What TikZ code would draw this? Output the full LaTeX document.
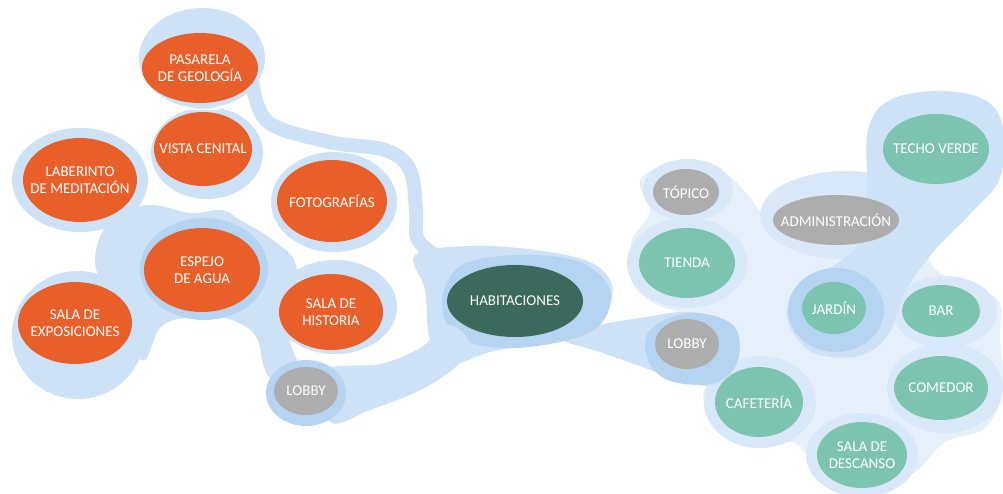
\documentclass[tikz,border=0pt]{standalone}
\usepackage{fontspec}
\setmainfont{Carlito}
\definecolor{blueL}{HTML}{E6F0FA}
\definecolor{blueM}{HTML}{D9E8F8}
\definecolor{blueA}{HTML}{CDE2F6}
\definecolor{blueB}{HTML}{B5D4F1}
\definecolor{roomorange}{HTML}{E85F2A}
\definecolor{roomteal}{HTML}{7DC4B0}
\definecolor{roomdark}{HTML}{3B6A5C}
\definecolor{roomgray}{HTML}{ADADAD}
\newcommand\roomnode[7]{%
  \fill[#6] (#2,#3) ellipse [x radius=#4, y radius=#5];
  \node[roomtext] (#1) at (#2,#3) {#7};}
\begin{document}
\begin{tikzpicture}[x=1pt,y=-1pt,
  roomtext/.style={inner sep=0pt, text=white, align=center,
    font=\fontsize{15}{17.5}\selectfont},
  blobL/.style={fill=blueL},
  blobM/.style={fill=blueM},
  blobA/.style={fill=blueA},
  blobB/.style={fill=blueB}]
\useasboundingbox (0,0) rectangle (1003,493);
\fill[white] (0,0) rectangle (1003,493);

% ---------- right cluster ----------
\path[blobL] plot[smooth cycle, tension=0.6] coordinates {
 (640,180) (675,163) (720,170) (748,195) (762,212) (775,190) (830,172) (900,182)
 (930,215) (930,262) (962,285) (998,300) (1000,340) (1003,390) (985,428) (945,442)
 (915,472) (870,493) (825,482) (808,456) (790,442) (745,447) (712,424) (705,388)
 (740,365) (715,322) (660,306) (632,282) (632,240) (650,212)};
\path[blobM] (688,190) ellipse [x radius=45, y radius=31];
\path[blobM] (687,263) ellipse [x radius=60, y radius=45];
\path[blobM] (845,215) ellipse [x radius=85, y radius=44];
\path[blobM] (945,312) ellipse [x radius=52, y radius=36];
\path[blobM] (945,388) ellipse [x radius=58, y radius=45];
\path[blobM] (760,402) ellipse [x radius=56, y radius=46];
\path[blobM] (862,455) ellipse [x radius=56, y radius=42];
% techo verde / jardin teardrop
\path[blobA] plot[smooth cycle, tension=0.6] coordinates {
 (868,130) (890,100) (940,91) (985,100) (1003,128) (1000,178) (972,212)
 (935,250) (905,292) (888,335) (858,356) (812,352) (787,318) (800,283)
 (835,265) (860,240) (867,195)};
\path[blobB] (836,310) ellipse [x radius=48, y radius=42];

% ---------- habitaciones area ----------
\path[blobA] plot[smooth cycle, tension=0.6] coordinates {
 (560,338) (600,325) (640,318) (690,312) (730,325) (738,360) (715,385)
 (680,380) (640,366) (600,352)};
\path[blobB] plot[smooth cycle, tension=0.6] coordinates {
 (650,330) (690,313) (733,325) (738,360) (715,383) (670,381) (648,360)};
\path[blobA] plot[smooth cycle, tension=0.6] coordinates {
 (415,255) (470,246) (535,250) (590,262) (612,285) (605,315) (580,332)
 (540,342) (490,352) (450,364) (430,340) (425,290)};
\path[blobB] plot[smooth cycle, tension=0.6] coordinates {
 (442,300) (462,265) (520,255) (580,262) (610,290) (600,325) (560,342)
 (500,348) (455,335)};
% band lobby -> habitaciones
\path[blobA] plot[smooth cycle, tension=0.6] coordinates {
 (320,372) (380,364) (420,348) (450,325) (470,350) (430,385) (370,410) (330,422)};
% tail from pasarela
\draw[blueA, line width=14pt, line cap=round] plot[smooth, tension=0.6] coordinates {
 (252,80) (268,122) (330,142) (385,150) (410,170) (416,210) (418,240) (440,258)};

% ---------- left cluster ----------
\path[blobA] (202,58) ellipse [x radius=63, y radius=50];
\path[blobA] (80,180) ellipse [x radius=68, y radius=52];
\path[blobA] (78,335) ellipse [x radius=66, y radius=64];
\path[blobA] (207,153) ellipse [x radius=56, y radius=46];
\path[blobA] (334,202) ellipse [x radius=63, y radius=50];
\path[blobA] (335,307) ellipse [x radius=62, y radius=47];
\path[blobA] plot[smooth cycle, tension=0.6] coordinates {
 (95,258) (112,218) (150,205) (190,213) (222,210) (240,220) (270,238) (295,262)
 (295,300) (290,340) (300,372) (280,385) (265,370) (255,335) (225,318) (185,318)
 (160,328) (145,360) (130,345) (108,300)};
\path[blobB] (204,269) ellipse [x radius=64, y radius=51];
\path[blobB] (306,393) ellipse [x radius=40, y radius=33];
% thin white seam between pasarela blob and vista halo
\draw[white, line width=1.5pt] plot[smooth, tension=0.6] coordinates {
 (150,101) (180,108) (215,109) (244,104)};

% ---------- rooms ----------
\roomnode{pasarela}{200}{68}{58}{35}{roomorange}{PASARELA\\DE GEOLOGÍA}
\roomnode{vista}{203}{149}{49}{37}{roomorange}{VISTA CENITAL}
\roomnode{laberinto}{80}{180}{57}{42}{roomorange}{LABERINTO\\DE MEDITACIÓN}
\roomnode{fotos}{332}{201}{55}{41}{roomorange}{FOTOGRAFÍAS}
\roomnode{espejo}{202}{270}{58}{42}{roomorange}{ESPEJO\\DE AGUA}
\roomnode{exposiciones}{75}{323}{57}{41}{roomorange}{SALA DE\\EXPOSICIONES}
\roomnode{historia}{331}{312}{52}{38}{roomorange}{SALA DE\\HISTORIA}
\roomnode{lobbyA}{306}{391}{32}{24}{roomgray}{LOBBY}
\roomnode{habitaciones}{515}{301}{68}{36}{roomdark}{HABITACIONES}
\roomnode{topico}{686}{192}{33}{23}{roomgray}{TÓPICO}
\roomnode{tienda}{687}{263}{48}{35}{roomteal}{TIENDA}
\roomnode{lobbyB}{687}{344}{32}{25}{roomgray}{LOBBY}
\roomnode{admin}{836}{220}{63}{25}{roomgray}{ADMINISTRACIÓN}
\roomnode{techo}{936}{149}{53}{35}{roomteal}{TECHO VERDE}
\roomnode{jardin}{834}{308}{32}{26}{roomteal}{JARDÍN}
\roomnode{bar}{941}{311}{39}{26}{roomteal}{BAR}
\roomnode{comedor}{941}{388}{47}{32}{roomteal}{COMEDOR}
\roomnode{cafeteria}{759}{402}{44}{35}{roomteal}{CAFETERÍA}
\roomnode{descanso}{862}{455}{45}{33}{roomteal}{SALA DE\\DESCANSO}
\end{tikzpicture}
\end{document}
